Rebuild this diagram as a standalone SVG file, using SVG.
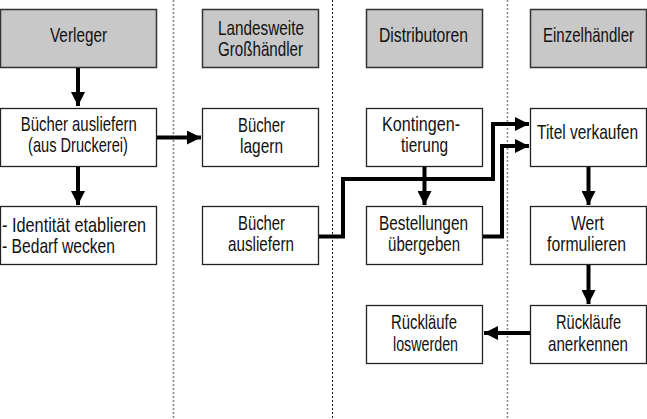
<svg xmlns="http://www.w3.org/2000/svg" width="647" height="419" viewBox="0 0 647 419">
<style>
.bg{fill:#fff}
.hdr rect{fill:#c8c8c8;stroke:#333;stroke-width:1.5}
.box rect{fill:#fff;stroke:#222;stroke-width:1.3}
text{font-family:"Liberation Sans",Arial,sans-serif;font-size:20px;fill:#111;text-anchor:middle}
.l{text-anchor:start}
.sep{stroke:#888;stroke-width:1.6;stroke-dasharray:2 2}
.sepk{stroke:#111;stroke-width:1;stroke-dasharray:2 2}
.c{fill:none;stroke:#000;stroke-width:4}
</style>
<defs>
<marker id="ah" markerUnits="userSpaceOnUse" markerWidth="14" markerHeight="14" refX="14" refY="7" orient="auto"><path d="M0,0L14,7L0,14z" fill="#000"/></marker>
</defs>
<rect class="bg" width="647" height="419"/>
<g id="separators">
<line class="sep" x1="173.5" y1="0" x2="173.5" y2="419"/>
<line class="sepk" x1="332.5" y1="0" x2="332.5" y2="419"/>
<line class="sep" x1="507.5" y1="0" x2="507.5" y2="419"/>
</g>
<g id="h1" class="hdr"><rect x="0.5" y="9.5" width="156" height="58"/><text transform="translate(78.5,41.5) scale(0.75,1)" textLength="76" lengthAdjust="spacingAndGlyphs">Verleger</text></g>
<g id="h2" class="hdr"><rect x="202.5" y="9.5" width="116" height="58"/><text transform="translate(261,34.5) scale(0.75,1)" textLength="114.7" lengthAdjust="spacingAndGlyphs">Landesweite</text><text transform="translate(260.5,56) scale(0.75,1)" textLength="113.3" lengthAdjust="spacingAndGlyphs">Großhändler</text></g>
<g id="h3" class="hdr"><rect x="366.5" y="9.5" width="116" height="58"/><text transform="translate(423.5,41.5) scale(0.75,1)" textLength="118.7" lengthAdjust="spacingAndGlyphs">Distributoren</text></g>
<g id="h4" class="hdr"><rect x="530.5" y="9.5" width="116" height="58"/><text transform="translate(588.5,41.5) scale(0.75,1)" textLength="121.3" lengthAdjust="spacingAndGlyphs">Einzelhändler</text></g>

<g id="n1" class="box"><rect x="0.5" y="108.5" width="156" height="58"/><text transform="translate(78.7,131) scale(0.75,1)" textLength="154.7" lengthAdjust="spacingAndGlyphs">Bücher ausliefern</text><text transform="translate(78,151.5) scale(0.75,1)" textLength="133.3" lengthAdjust="spacingAndGlyphs">(aus Druckerei)</text></g>
<g id="n2" class="box"><rect x="0.5" y="206.5" width="156" height="58"/><text class="l" transform="translate(2,231.5) scale(0.75,1)" textLength="192" lengthAdjust="spacingAndGlyphs">- Identität etablieren</text><text class="l" transform="translate(2,253) scale(0.75,1)" textLength="150.7" lengthAdjust="spacingAndGlyphs">- Bedarf wecken</text></g>
<g id="n3" class="box"><rect x="202.5" y="108.5" width="116" height="58"/><text transform="translate(261.5,131.5) scale(0.75,1)" textLength="62.7" lengthAdjust="spacingAndGlyphs">Bücher</text><text transform="translate(261.5,152.5) scale(0.75,1)" textLength="57.3" lengthAdjust="spacingAndGlyphs">lagern</text></g>
<g id="n4" class="box"><rect x="202.5" y="206.5" width="116" height="58"/><text transform="translate(261.5,229.5) scale(0.75,1)" textLength="62.7" lengthAdjust="spacingAndGlyphs">Bücher</text><text transform="translate(261,251) scale(0.75,1)" textLength="88" lengthAdjust="spacingAndGlyphs">ausliefern</text></g>
<g id="n5" class="box"><rect x="366.5" y="108.5" width="116" height="58"/><text transform="translate(421,131) scale(0.75,1)" textLength="104" lengthAdjust="spacingAndGlyphs">Kontingen-</text><text transform="translate(424.5,152) scale(0.75,1)" textLength="62.7" lengthAdjust="spacingAndGlyphs">tierung</text></g>
<g id="n6" class="box"><rect x="366.5" y="206.5" width="116" height="58"/><text transform="translate(423.5,229.5) scale(0.75,1)" textLength="118.7" lengthAdjust="spacingAndGlyphs">Bestellungen</text><text transform="translate(424,251) scale(0.75,1)" textLength="96" lengthAdjust="spacingAndGlyphs">übergeben</text></g>
<g id="n7" class="box"><rect x="366.5" y="305.5" width="116" height="58"/><text transform="translate(424,329) scale(0.75,1)" textLength="88" lengthAdjust="spacingAndGlyphs">Rückläufe</text><text transform="translate(425.5,350.5) scale(0.75,1)" textLength="86.7" lengthAdjust="spacingAndGlyphs">loswerden</text></g>
<g id="n8" class="box"><rect x="530.5" y="108.5" width="116" height="58"/><text transform="translate(587.5,139) scale(0.75,1)" textLength="134.7" lengthAdjust="spacingAndGlyphs">Titel verkaufen</text></g>
<g id="n9" class="box"><rect x="530.5" y="206.5" width="116" height="58"/><text transform="translate(587.5,229.5) scale(0.75,1)" textLength="44" lengthAdjust="spacingAndGlyphs">Wert</text><text transform="translate(586.5,251) scale(0.75,1)" textLength="105.3" lengthAdjust="spacingAndGlyphs">formulieren</text></g>
<g id="n10" class="box"><rect x="530.5" y="305.5" width="116" height="58"/><text transform="translate(588.5,329) scale(0.75,1)" textLength="86.7" lengthAdjust="spacingAndGlyphs">Rückläufe</text><text transform="translate(588,350.5) scale(0.75,1)" textLength="106.7" lengthAdjust="spacingAndGlyphs">anerkennen</text></g>

<g id="connectors">
<path class="c" d="M78,68V106" marker-end="url(#ah)"/>
<path class="c" d="M78,167V205" marker-end="url(#ah)"/>
<path class="c" d="M157,137.5H201" marker-end="url(#ah)"/>
<path class="c" d="M424.5,167V205" marker-end="url(#ah)"/>
<path class="c" d="M588.5,167V205" marker-end="url(#ah)"/>
<path class="c" d="M588.5,265V304" marker-end="url(#ah)"/>
<path class="c" d="M530,333H484" marker-end="url(#ah)"/>
<path class="c" d="M319,236.5H343V179H493V124H529" marker-end="url(#ah)"/>
<path class="c" d="M483,236.5H502V146H529" marker-end="url(#ah)"/>
</g>
</svg>
